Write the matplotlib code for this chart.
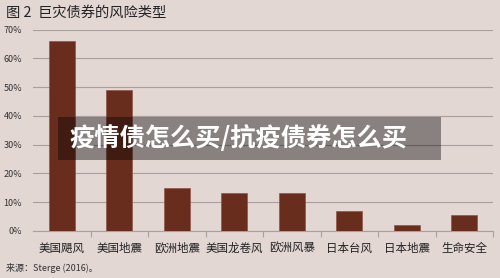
import matplotlib.pyplot as plt
from matplotlib.patches import Rectangle

plt.rcParams['font.family'] = ['Noto Sans CJK SC', 'DejaVu Sans']

categories = ['美国飓风', '美国地震', '欧洲地震', '美国龙卷风', '欧洲风暴', '日本台风', '日本地震', '生命安全']
shares = [66, 49, 15, 13, 13, 7, 2, 5.5]
yticks = [0, 10, 20, 30, 40, 50, 60, 70]

bg = '#e3d7d4'
bar_color = '#692d1d'
grid_color = '#a9a09e'

fig = plt.figure(figsize=(5, 2.78), dpi=100, facecolor=bg)
ax = fig.add_axes([0.066, 0.17, 0.92, 0.723])
ax.set_facecolor(bg)

x = list(range(len(categories)))
ax.bar(x, shares, width=0.46, color=bar_color, edgecolor='#8a4a3a', linewidth=0.4, zorder=3)

ax.set_xlim(-0.5, len(categories) - 0.5)
ax.set_ylim(0, 70)
ax.set_yticks(yticks)
ax.set_yticklabels([f'{v}%' for v in yticks], fontsize=6.5, color='#333333')
ax.yaxis.grid(True, color=grid_color, linewidth=0.8, zorder=0)
ax.tick_params(axis='y', length=0, pad=8)

ax.set_xticks(x)
ax.set_xticklabels(categories, fontsize=8.3, color='#222222')
ax.tick_params(axis='x', length=0, pad=8)
# small separators between categories
ax.set_xticks([i + 0.5 for i in x], minor=True)
ax.tick_params(axis='x', which='minor', length=4, color=grid_color, width=0.8)

for s in ['top', 'right', 'left']:
    ax.spines[s].set_visible(False)
ax.spines['bottom'].set_color(grid_color)
ax.spines['bottom'].set_linewidth(0.8)

fig.text(0.012, 0.955, '图 2  巨灾债券的风险类型', fontsize=10.3, color='#222222', va='center')
fig.text(0.012, 0.035, '来源：Sterge (2016)。', fontsize=6.5, color='#333333', va='center')

# watermark banner
fig.patches.append(Rectangle((0.116, 0.424), 0.766, 0.155, transform=fig.transFigure,
                             facecolor='black', alpha=0.4, edgecolor='none', zorder=5))
fig.text(0.138, 0.503, '疫情债怎么买/抗疫债券怎么买', fontsize=18.2, fontweight='bold',
         color='white', va='center', zorder=6)

fig.savefig('out.png', dpi=100, facecolor=bg)
